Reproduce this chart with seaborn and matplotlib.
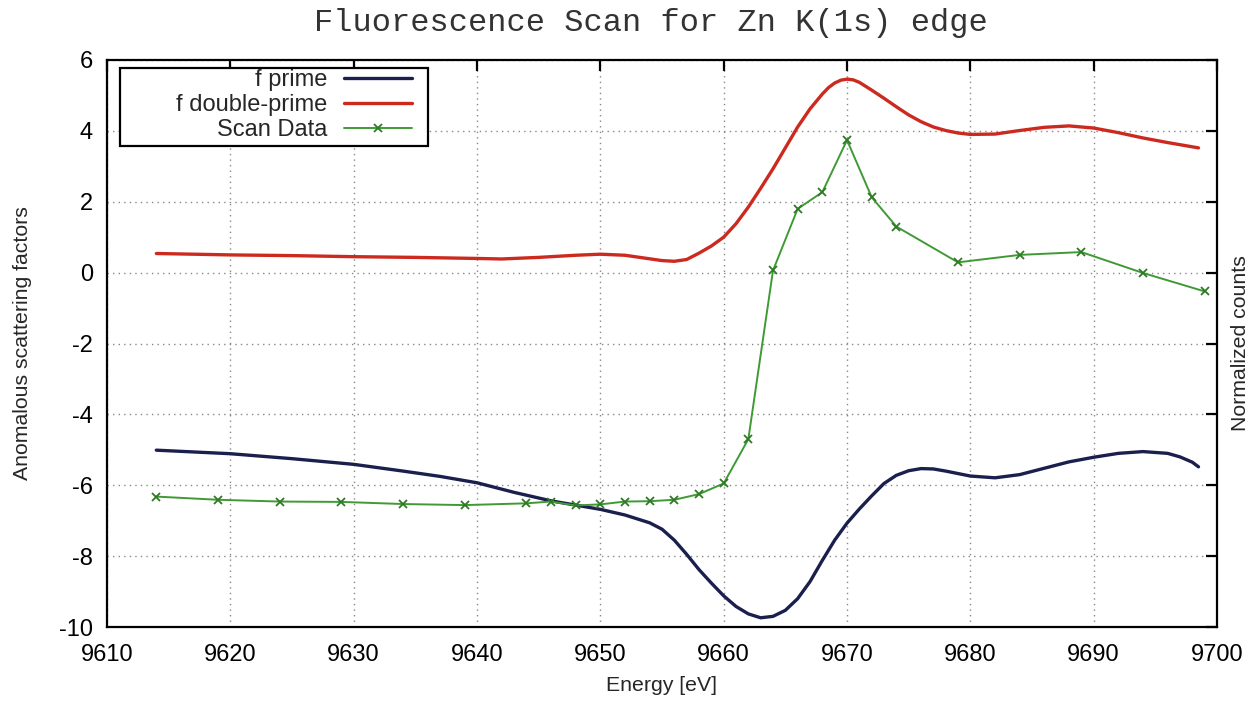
import matplotlib
matplotlib.use("Agg")
import matplotlib.pyplot as plt
from matplotlib.patches import Rectangle
import seaborn as sns
import pandas as pd

# ---------------- data ----------------
energy_fp = [9614, 9620, 9625, 9630, 9634, 9637, 9640, 9643, 9646, 9648, 9650, 9652,
             9654, 9655, 9656, 9657, 9658, 9659, 9660, 9661, 9662, 9663, 9664, 9665,
             9666, 9667, 9668, 9669, 9670, 9671, 9672, 9673, 9674, 9675, 9676, 9677,
             9678, 9680, 9682, 9684, 9686, 9688, 9690, 9692, 9694, 9696, 9697, 9698, 9698.5]
f_prime = [-5.01, -5.11, -5.25, -5.41, -5.60, -5.75, -5.93, -6.20, -6.44, -6.56, -6.68, -6.84,
           -7.06, -7.24, -7.55, -7.95, -8.38, -8.76, -9.12, -9.42, -9.63, -9.74, -9.70, -9.53,
           -9.20, -8.72, -8.12, -7.55, -7.07, -6.67, -6.30, -5.95, -5.72, -5.59, -5.53, -5.54,
           -5.60, -5.74, -5.79, -5.70, -5.52, -5.34, -5.21, -5.10, -5.05, -5.10, -5.20, -5.35, -5.48]

energy_fpp = [9614, 9620, 9625, 9630, 9635, 9640, 9642, 9645, 9648, 9650, 9652, 9654,
              9655, 9656, 9657, 9658, 9659, 9660, 9661, 9662, 9663, 9664, 9665, 9666,
              9667, 9668, 9668.5, 9669, 9669.5, 9670, 9670.5, 9671, 9672, 9673, 9674, 9675,
              9676, 9677, 9678, 9679, 9680, 9682, 9684, 9686, 9688, 9690, 9692, 9694, 9696, 9698.5]
f_double_prime = [0.54, 0.50, 0.48, 0.45, 0.43, 0.40, 0.385, 0.43, 0.49, 0.52, 0.49, 0.39,
                  0.34, 0.32, 0.37, 0.55, 0.75, 1.00, 1.38, 1.85, 2.38, 2.93, 3.52, 4.11,
                  4.62, 5.04, 5.22, 5.35, 5.43, 5.46, 5.44, 5.37, 5.15, 4.92, 4.68, 4.45,
                  4.26, 4.11, 4.01, 3.94, 3.90, 3.91, 4.01, 4.10, 4.14, 4.08, 3.95, 3.80, 3.67, 3.52]

energy_scan = [9614, 9619, 9624, 9629, 9634, 9639, 9644, 9646, 9648, 9650, 9652, 9654,
               9656, 9658, 9660, 9662, 9664, 9666, 9668, 9670, 9672, 9674, 9679, 9684,
               9689, 9694, 9699]
scan_counts = [-6.32, -6.41, -6.46, -6.47, -6.53, -6.56, -6.51, -6.46, -6.57, -6.54, -6.46, -6.45,
               -6.41, -6.25, -5.95, -4.70, 0.06, 1.80, 2.27, 3.74, 2.13, 1.30, 0.29, 0.50,
               0.58, -0.01, -0.53]

x_ticks = [9610, 9620, 9630, 9640, 9650, 9660, 9670, 9680, 9690, 9700]
y_ticks = [-10, -8, -6, -4, -2, 0, 2, 4, 6]

title = "Fluorescence Scan for Zn K(1s) edge"
x_label = "Energy [eV]"
y_label = "Anomalous scattering factors"
y2_label = "Normalized counts"

# ---------------- style ----------------
sns.set_style("white")
plt.rcParams["font.family"] = ["Liberation Sans", "DejaVu Sans"]

W, H = 1252, 703
fig = plt.figure(figsize=(W / 100, H / 100), dpi=100)
L, R, T, B = 107, 1217, 60, 627
ax = fig.add_axes([L / W, 1 - B / H, (R - L) / W, (B - T) / H])

df_fp = pd.DataFrame({"energy": energy_fp, "value": f_prime})
df_fpp = pd.DataFrame({"energy": energy_fpp, "value": f_double_prime})
df_scan = pd.DataFrame({"energy": energy_scan, "value": scan_counts})

sns.lineplot(data=df_fp, x="energy", y="value", ax=ax, color="#1b1f4e", lw=2.4,
             label="f prime", sort=False, estimator=None)
sns.lineplot(data=df_fpp, x="energy", y="value", ax=ax, color="#cc2a1f", lw=2.4,
             label="f double-prime", sort=False, estimator=None)
sns.lineplot(data=df_scan, x="energy", y="value", ax=ax, color="#3f9a35", lw=1.4,
             marker="x", markersize=6, markeredgewidth=1.3, markeredgecolor="#2f7a25",
             label="Scan Data", sort=False, estimator=None)

ax.set_xlim(9610, 9700)
ax.set_ylim(-10, 6)
ax.set_xticks(x_ticks)
ax.set_yticks(y_ticks)
ax.set_xticklabels([str(t) for t in x_ticks])
ax.set_yticklabels([str(t) for t in y_ticks])
ax.tick_params(direction="in", length=8, width=1.6, top=True, right=True,
               labelsize=17, colors="black", pad=10)
ax.tick_params(axis="x", pad=12)
for s in ax.spines.values():
    s.set_color("black")
    s.set_linewidth(1.6)
ax.grid(True, color="#888888", linestyle=(0, (1, 3)), linewidth=1.0)

ax.set_xlabel(x_label, fontsize=15.3)
ax.set_ylabel(y_label, fontsize=15.3)
ax.xaxis.set_label_coords(0.5 + (662 - (L + R) / 2) / (R - L), (B - 676) / (B - T))
ax.yaxis.set_label_coords((32 - L) / (R - L), 0.5)
fig.text(1240 / W, 1 - 343 / H, y2_label, rotation=90, fontsize=15.3,
         ha="center", va="center")

fig.text(651 / W, 1 - 23 / H, title, fontsize=23, family="Liberation Mono",
         ha="center", va="center", color="#333333")

# legend frame (gnuplot style: wide box, right-aligned entries)
frame = Rectangle((120 / W, 1 - 146 / H), 308 / W, 78 / H, transform=fig.transFigure,
                  facecolor="white", edgecolor="black", linewidth=1.6, zorder=4)
ax.add_patch(frame)
frame.set_clip_on(False)

leg = ax.legend(loc="upper right", bbox_to_anchor=((412 - L) / (R - L), (B - 69) / (B - T)),
                borderaxespad=0, markerfirst=False, fontsize=17, frameon=False,
                labelspacing=0.13, handlelength=2.9, handletextpad=0.68, borderpad=0)
leg.set_zorder(6)

fig.savefig("out.png", dpi=100)
